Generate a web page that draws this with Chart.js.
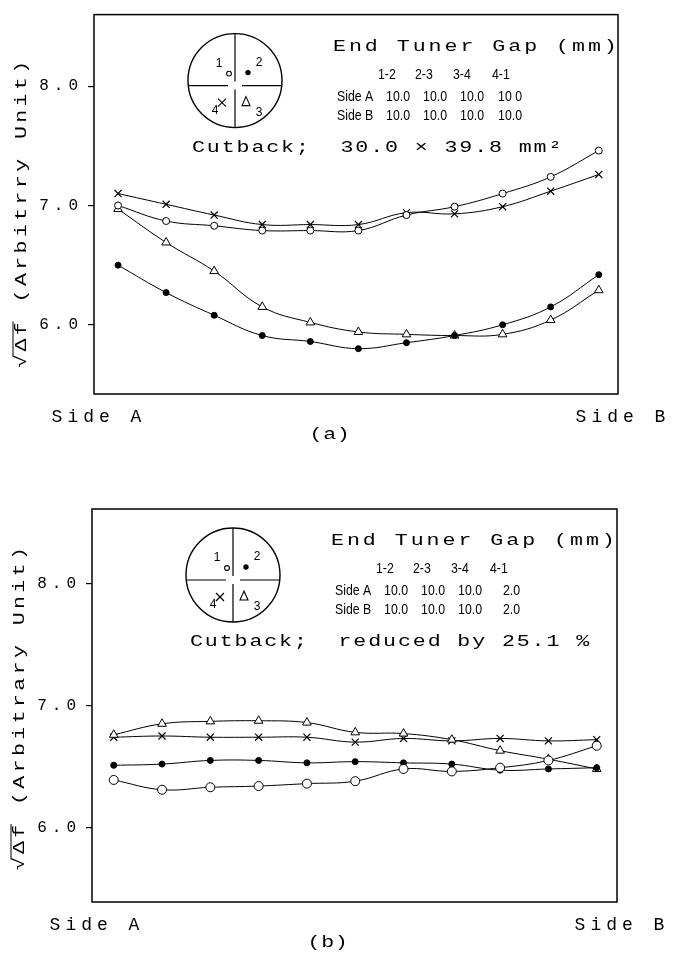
<!DOCTYPE html>
<html lang="en">
<head>
<meta charset="UTF-8">
<title>End Tuner Gap</title>
<script src="https://cdn.jsdelivr.net/npm/chart.js"></script>
<style>
  html, body { margin: 0; padding: 0; background: #fff; }
  canvas { display: block; }
</style>
</head>
<body>
<canvas id="chartA" width="677" height="470"></canvas>
<canvas id="chartB" width="677" height="489"></canvas>
<script>
// measuring stations from side A to side B
const stations = [0, 1, 2, 3, 4, 5, 6, 7, 8, 9, 10];
const yTicks = [6.0, 7.0, 8.0];
const sideLabels = ['Side A', 'Side B'];
const gapColumns = ['1-2', '2-3', '3-4', '4-1'];

// (a) all end tuner gaps 10 mm
const a_pos1 = [7.00, 6.87, 6.83, 6.79, 6.79, 6.79, 6.92, 6.99, 7.10, 7.24, 7.46]; // open circle
const a_pos2 = [6.50, 6.27, 6.08, 5.91, 5.86, 5.80, 5.85, 5.91, 6.00, 6.15, 6.42]; // filled circle
const a_pos3 = [6.97, 6.69, 6.45, 6.15, 6.02, 5.94, 5.92, 5.91, 5.92, 6.04, 6.29]; // triangle
const a_pos4 = [7.10, 7.01, 6.92, 6.84, 6.84, 6.84, 6.94, 6.93, 6.99, 7.12, 7.26]; // cross
const a_gapSideA = ['10.0', '10.0', '10.0', '10 0'];
const a_gapSideB = ['10.0', '10.0', '10.0', '10.0'];
const a_cutback = 'Cutback;  30.0 \u00d7 39.8 mm\u00b2';
const a_yTitle = '\u221a\u0394f (Arbitrry Unit)';

// (b) gap 4-1 reduced to 2 mm
const b_pos1 = [6.39, 6.31, 6.33, 6.34, 6.36, 6.38, 6.48, 6.46, 6.49, 6.55, 6.67];
const b_pos2 = [6.51, 6.52, 6.55, 6.55, 6.53, 6.54, 6.53, 6.52, 6.47, 6.48, 6.49];
const b_pos3 = [6.76, 6.85, 6.87, 6.875, 6.86, 6.78, 6.77, 6.72, 6.63, 6.56, 6.48];
const b_pos4 = [6.74, 6.75, 6.74, 6.74, 6.74, 6.70, 6.73, 6.71, 6.73, 6.71, 6.72];
const b_gapSideA = ['10.0', '10.0', '10.0', '2.0'];
const b_gapSideB = ['10.0', '10.0', '10.0', '2.0'];
const b_cutback = 'Cutback;  reduced by 25.1 %';
const b_yTitle = '\u221a\u0394f (Arbitrary Unit)';

const MONO = "'Liberation Mono', 'Courier New', monospace";
const WIDE = 1.35; // typewriter face is wider than Courier

// stretched typewriter text
function typed(ctx, text, x, y, spacing, align) {
  ctx.save();
  ctx.translate(x, y);
  ctx.scale(WIDE, 1);
  ctx.font = '16px ' + MONO;
  ctx.letterSpacing = spacing + 'px';
  ctx.textAlign = align || 'left';
  ctx.textBaseline = 'middle';
  ctx.fillText(text, 0, 0);
  ctx.restore();
}

function narrow(ctx, text, x, y, align) {
  ctx.save();
  ctx.translate(x, y);
  ctx.scale(0.82, 1);
  ctx.font = "15px 'Liberation Sans', Arial, sans-serif";
  ctx.textAlign = align;
  ctx.textBaseline = 'middle';
  ctx.fillText(text, 0, 0);
  ctx.restore();
}

const panelPlugin = {
  id: 'panel',
  beforeDraw(chart) {
    chart.ctx.letterSpacing = '5px';
  },
  afterDraw(chart, args, opts) {
    const ctx = chart.ctx;
    const ca = chart.chartArea;
    ctx.letterSpacing = '0px';
    ctx.save();
    ctx.strokeStyle = '#000';
    ctx.fillStyle = '#000';

    // frame
    ctx.lineWidth = 1.5;
    ctx.strokeRect(ca.left, ca.top, ca.right - ca.left, ca.bottom - ca.top);

    // y title, rotated, with bar over the radicand
    ctx.save();
    ctx.translate(ca.left - 72, ca.top + 198);
    ctx.rotate(-Math.PI / 2);
    ctx.scale(WIDE, 1);
    ctx.font = '16px ' + MONO;
    ctx.letterSpacing = '2.5px';
    ctx.textBaseline = 'middle';
    const full = ctx.measureText(opts.yTitle).width;
    const x0 = -full / 2;
    ctx.fillText(opts.yTitle, x0, 0);
    const wRoot = ctx.measureText('\u221a').width;
    const wDf = ctx.measureText('\u0394f').width;
    ctx.lineWidth = 1;
    ctx.beginPath();
    ctx.moveTo(x0 + wRoot - 4, -9);
    ctx.lineTo(x0 + wRoot + wDf - 2, -9);
    ctx.stroke();
    ctx.restore();

    // cross-section sketch of the cavity
    const cx = ca.left + 141, cy = ca.top + 66, r = 47, hy = cy + 5;
    const hw = Math.sqrt(r * r - 25);
    ctx.lineWidth = 1.4;
    ctx.beginPath();
    ctx.arc(cx, cy, r, 0, Math.PI * 2);
    ctx.stroke();
    ctx.lineWidth = 1.2;
    ctx.beginPath();
    ctx.moveTo(cx, cy - r); ctx.lineTo(cx, hy - 4);
    ctx.moveTo(cx, hy + 4); ctx.lineTo(cx, cy + r);
    ctx.moveTo(cx - hw, hy); ctx.lineTo(cx - 7, hy);
    ctx.moveTo(cx + 7, hy); ctx.lineTo(cx + hw, hy);
    ctx.stroke();
    ctx.font = "12px 'Liberation Sans', Arial, sans-serif";
    ctx.textAlign = 'center';
    ctx.textBaseline = 'middle';
    ctx.fillText('1', cx - 16, cy - 17);
    ctx.fillText('2', cx + 24, cy - 18);
    ctx.fillText('4', cx - 20, cy + 30);
    ctx.fillText('3', cx + 24, cy + 32);
    ctx.lineWidth = 1.1;
    ctx.beginPath(); ctx.arc(cx - 6, cy - 7, 2.4, 0, Math.PI * 2); ctx.stroke();
    ctx.beginPath(); ctx.arc(cx + 13, cy - 8, 2.7, 0, Math.PI * 2); ctx.fill();
    ctx.beginPath();
    ctx.moveTo(cx - 17, cy + 18); ctx.lineTo(cx - 9, cy + 26);
    ctx.moveTo(cx - 9, cy + 18); ctx.lineTo(cx - 17, cy + 26);
    ctx.moveTo(cx + 11, cy + 16); ctx.lineTo(cx + 15, cy + 25); ctx.lineTo(cx + 7, cy + 25); ctx.closePath();
    ctx.stroke();

    // gap table
    typed(ctx, 'End Tuner Gap (mm)', ca.left + 239, ca.top + 32, 2.2);
    const hdrX = [284, 321, 359, 398];
    const colX = [316, 353, 390, 428];
    gapColumns.forEach((g, i) => narrow(ctx, g, ca.left + hdrX[i], ca.top + 60, 'left'));
    narrow(ctx, sideLabels[0], ca.left + 243, ca.top + 82, 'left');
    narrow(ctx, sideLabels[1], ca.left + 243, ca.top + 101, 'left');
    opts.gapA.forEach((g, i) => narrow(ctx, g, ca.left + colX[i], ca.top + 82, 'right'));
    opts.gapB.forEach((g, i) => narrow(ctx, g, ca.left + colX[i], ca.top + 101, 'right'));

    typed(ctx, opts.cutback, ca.left + 98, ca.top + 133, 1.4);
    typed(ctx, opts.panel, ca.left + opts.panelX, ca.bottom + opts.panelDy, 0.5, 'center');
    ctx.restore();
  }
};

function series(values, style) {
  return Object.assign({
    data: values.map((v, i) => ({ x: stations[i], y: v })),
    borderColor: '#000',
    borderWidth: 1,
    tension: 0.4,
    fill: false,
    pointBorderColor: '#000',
    pointBorderWidth: 1,
    pointHoverRadius: 0
  }, style);
}

function makeChart(id, cfg) {
  const ctx = document.getElementById(id).getContext('2d');
  return new Chart(ctx, {
    type: 'line',
    data: {
      datasets: [
        series(cfg.pos1, { pointStyle: 'circle', pointRadius: cfg.openR, pointBackgroundColor: '#fff' }),
        series(cfg.pos2, { pointStyle: 'circle', pointRadius: 3, pointBackgroundColor: '#000' }),
        series(cfg.pos3, { pointStyle: 'triangle', pointRadius: 5, pointBackgroundColor: '#fff' }),
        series(cfg.pos4, { pointStyle: 'crossRot', pointRadius: 5, pointBorderWidth: 1.2 })
      ]
    },
    options: {
      responsive: false,
      animation: false,
      layout: { padding: cfg.padding },
      plugins: {
        legend: { display: false },
        tooltip: { enabled: false },
        panel: {
          gapA: cfg.gapA, gapB: cfg.gapB, cutback: cfg.cutback, yTitle: cfg.yTitle,
          panel: cfg.panel, panelX: cfg.panelX, panelDy: cfg.panelDy
        }
      },
      scales: {
        x: {
          type: 'linear',
          min: cfg.xMin,
          max: cfg.xMax,
          afterBuildTicks: s => { s.ticks = [{ value: s.min }, { value: s.max }]; },
          afterFit: s => { s.height = cfg.xHeight; },
          ticks: {
            callback: (v, i) => sideLabels[i],
            color: '#000',
            font: { family: MONO, size: 18 },
            padding: 4,
            labelOffset: 5,
            maxRotation: 0,
            autoSkip: false
          },
          grid: { display: false },
          border: { display: false }
        },
        y: {
          type: 'linear',
          min: cfg.yMin,
          max: cfg.yMax,
          afterBuildTicks: s => { s.ticks = yTicks.map(v => ({ value: v })); },
          afterFit: s => { s.width = cfg.yWidth; },
          ticks: {
            callback: v => v.toFixed(1),
            color: '#000',
            font: { family: MONO, size: 16 },
            padding: 5
          },
          grid: { drawOnChartArea: false, drawTicks: true, tickLength: 6, color: '#000', lineWidth: 1.2 },
          border: { display: false }
        }
      }
    },
    plugins: [panelPlugin]
  });
}

makeChart('chartA', {
  pos1: a_pos1, pos2: a_pos2, pos3: a_pos3, pos4: a_pos4, openR: 3.5,
  gapA: a_gapSideA, gapB: a_gapSideB, cutback: a_cutback, yTitle: a_yTitle,
  panel: '(a)', panelX: 236, panelDy: 41,
  xMin: -0.5, xMax: 10.4, yMin: 5.42, yMax: 8.6,
  padding: { top: 10, right: 59, left: 0, bottom: 0 }, yWidth: 94, xHeight: 76
});

makeChart('chartB', {
  pos1: b_pos1, pos2: b_pos2, pos3: b_pos3, pos4: b_pos4, openR: 4.5,
  gapA: b_gapSideA, gapB: b_gapSideB, cutback: b_cutback, yTitle: b_yTitle,
  panel: '(b)', panelX: 236, panelDy: 41,
  xMin: -0.45, xMax: 10.42, yMin: 5.39, yMax: 8.61,
  padding: { top: 39, right: 60, left: 0, bottom: 0 }, yWidth: 92, xHeight: 57
});
</script>
</body>
</html>
